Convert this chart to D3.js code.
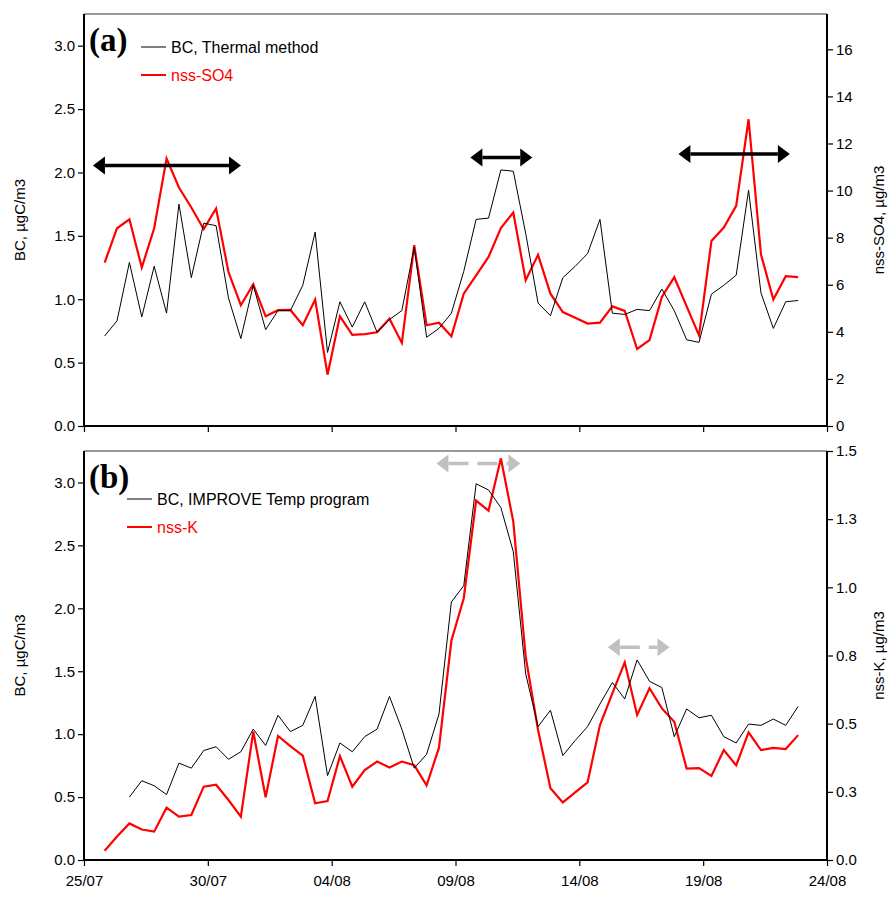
<!DOCTYPE html>
<html><head><meta charset="utf-8">
<script src="https://cdn.jsdelivr.net/npm/d3@7"></script>
<style>body{margin:0;background:#fff}</style></head>
<body><svg id="c" width="895" height="897"></svg>
<script>
const startTime = "2000-07-25T20:00";
const stepHours = 12;
const xTickLabels = ["25/07","30/07","04/08","09/08","14/08","19/08","24/08"];
const bcThermal = [0.71,0.83,1.29,0.86,1.26,0.89,1.75,1.17,1.60,1.58,1.01,0.69,1.11,0.76,0.91,0.91,1.11,1.53,0.58,0.98,0.78,0.98,0.74,0.84,0.91,1.41,0.70,0.77,0.89,1.22,1.63,1.64,2.02,2.01,1.52,0.97,0.87,1.17,1.26,1.36,1.63,0.89,0.88,0.92,0.91,1.08,0.91,0.68,0.66,1.04,1.11,1.19,1.86,1.05,0.77,0.98,0.99];
const nssSO4 = [6.94,8.40,8.78,6.73,8.40,11.36,10.13,9.28,8.36,9.24,6.54,5.13,6.02,4.66,4.92,4.93,4.28,5.37,2.18,4.66,3.87,3.90,3.98,4.56,3.53,7.68,4.28,4.39,3.81,5.62,6.40,7.18,8.41,9.07,6.19,7.27,5.62,4.84,4.60,4.35,4.39,5.08,4.89,3.27,3.65,5.48,6.32,5.08,3.85,7.86,8.43,9.35,13.03,7.29,5.37,6.36,6.32];
const bcImprove = [null,null,0.50,0.63,0.59,0.52,0.77,0.73,0.87,0.90,0.80,0.86,1.04,0.91,1.15,1.02,1.07,1.30,0.67,0.93,0.86,0.98,1.04,1.30,1.04,0.73,0.84,1.16,2.05,2.18,2.99,2.94,2.80,2.45,1.48,1.06,1.19,0.83,0.95,1.06,1.24,1.41,1.28,1.59,1.42,1.37,0.98,1.20,1.13,1.15,0.98,0.93,1.08,1.07,1.12,1.07,1.22];
const nssK = [0.034,0.086,0.134,0.112,0.104,0.192,0.159,0.165,0.269,0.276,0.220,0.159,0.471,0.230,0.455,0.418,0.383,0.208,0.216,0.381,0.269,0.330,0.361,0.339,0.361,0.348,0.274,0.412,0.804,0.960,1.318,1.281,1.473,1.241,0.746,0.477,0.263,0.211,0.248,0.285,0.495,0.611,0.725,0.532,0.630,0.556,0.507,0.335,0.337,0.308,0.403,0.347,0.468,0.403,0.411,0.407,0.458];
const leftTicks = [0,0.5,1.0,1.5,2.0,2.5,3.0];
const so4Ticks = [0,2,4,6,8,10,12,14,16];
const kTicks = [0,0.25,0.5,0.75,1.0,1.25,1.5];
// annotation arrows: [startDay, endDay, value] (days after 25/07)
const arrowsA = [[0.36,6.34,11.07],[15.6,18.1,11.4],[24.0,28.5,11.55]];
const arrowsB = [[14.23,17.62,3.15],[21.15,23.64,1.69]];

const svg = d3.select("#c");
const font = "Arial, 'Liberation Sans', sans-serif";
const parse = d3.timeParse("%Y-%m-%dT%H:%M");
const t0 = parse(startTime);
const times = bcThermal.map((_, i) => d3.timeHour.offset(t0, i*stepHours));
const d0 = parse("2000-07-25T00:00");
const dayToDate = d => new Date(d0.getTime() + d*864e5);
const xTickDates = xTickLabels.map((s,i)=>d3.timeDay.offset(d0, i*5));
const x = d3.scaleTime().domain([d0, d3.timeDay.offset(d0,30)]).range([84, 827]);

const svgDefs = svg.append("defs");

function panel(cfg){
  const {top, bottom, lMax, rMax, rTicks, rFmt, bc, other, label, leg1, leg2, rTitle, showX, legX, legY} = cfg;
  const yl = d3.scaleLinear().domain([0,lMax]).range([bottom, top]);
  const yr = d3.scaleLinear().domain([0,rMax]).range([bottom, top]);
  const g = svg.append("g");
  g.append("line").attr("x1",84).attr("x2",827).attr("y1",top).attr("y2",top).attr("stroke","#777").attr("stroke-width",1.5);
  const ax = g.append("g").attr("transform",`translate(0,${bottom})`)
    .call(d3.axisBottom(x).tickValues(xTickDates).tickSize(6).tickFormat((d,i)=>showX?xTickLabels[i]:""));
  const al = g.append("g").attr("transform","translate(84,0)")
    .call(d3.axisLeft(yl).tickValues(leftTicks).tickSize(6).tickFormat(d3.format(".1f")));
  const ar = g.append("g").attr("transform","translate(827,0)")
    .call(d3.axisRight(yr).tickValues(rTicks).tickSize(6).tickFormat(rFmt));
  [ax,al,ar].forEach(a=>{a.select(".domain").attr("stroke","#000").attr("stroke-width",2);
    a.selectAll(".tick line").attr("stroke","#000").attr("stroke-width",1.2);
    a.selectAll("text").attr("font-family",font).attr("font-size",15).attr("fill","#000");});
  ax.selectAll("text").attr("dy","1.1em");
  al.select(".domain").attr("d",`M0,${bottom}V${top}`);
  ar.select(".domain").attr("d",`M0,${bottom}V${top}`);
  ax.select(".domain").attr("d",`M0,0H${827}`).attr("transform",null);
  ax.select(".domain").attr("d",`M84,0H827`);
  g.append("text").attr("transform",`translate(25,${(top+bottom)/2}) rotate(-90)`).attr("text-anchor","middle")
    .attr("font-family",font).attr("font-size",15).text("BC, µgC/m3");
  g.append("text").attr("transform",`translate(884,${(top+bottom)/2}) rotate(-90)`).attr("text-anchor","middle")
    .attr("font-family",font).attr("font-size",15).text(rTitle);
  const lineL = d3.line().defined(d=>d[1]!=null).x(d=>x(d[0])).y(d=>yl(d[1]));
  const lineR = d3.line().defined(d=>d[1]!=null).x(d=>x(d[0])).y(d=>yr(d[1]));
  g.append("path").attr("d",lineR(times.map((t,i)=>[t,other[i]]))).attr("fill","none").attr("stroke","#ff0000").attr("stroke-width",2.2).attr("stroke-linejoin","miter");
  g.append("path").attr("d",lineL(times.map((t,i)=>[t,bc[i]]))).attr("fill","none").attr("stroke","#000").attr("stroke-width",1);
  g.append("text").attr("x",89).attr("y",top+37).attr("font-family","'Liberation Serif','Times New Roman',serif").attr("font-weight","bold").attr("font-size",33).text(label);
  g.append("line").attr("x1",legX).attr("x2",legX+25).attr("y1",legY).attr("y2",legY).attr("stroke","#000").attr("stroke-width",1);
  g.append("text").attr("x",legX+30).attr("y",legY+6).attr("font-family",font).attr("font-size",16).text(leg1);
  g.append("line").attr("x1",legX).attr("x2",legX+25).attr("y1",legY+28).attr("y2",legY+28).attr("stroke","#ff0000").attr("stroke-width",2);
  g.append("text").attr("x",legX+30).attr("y",legY+34).attr("font-family",font).attr("font-size",16).attr("fill","#ff0000").text(leg2);
  return {g, yl, yr};
}

const pa = panel({top:14,bottom:426,lMax:3.25,rMax:17.5,rTicks:so4Ticks,rFmt:d3.format("d"),bc:bcThermal,other:nssSO4,
  label:"(a)",leg1:"BC, Thermal method",leg2:"nss-SO4",rTitle:"nss-SO4, µg/m3",showX:false,legX:141,legY:47});
const pb = panel({top:451,bottom:860,lMax:3.25,rMax:1.5,rTicks:kTicks,rFmt:d3.format(".1f"),bc:bcImprove,other:nssK,
  label:"(b)",leg1:"BC, IMPROVE Temp program",leg2:"nss-K",rTitle:"nss-K, µg/m3",showX:true,legX:127,legY:499});

function dblArrow(g, x1, x2, y, color, dashed){
  const h = 12, hw = 9;
  g.append("line").attr("x1",x1+h).attr("x2",x2-h).attr("y1",y).attr("y2",y).attr("stroke",color).attr("stroke-width",3.5)
    .attr("stroke-dasharray",dashed?"20,9":null);
  g.append("path").attr("d",`M${x1},${y}L${x1+h},${y-hw}L${x1+h},${y+hw}Z`).attr("fill",color);
  g.append("path").attr("d",`M${x2},${y}L${x2-h},${y-hw}L${x2-h},${y+hw}Z`).attr("fill",color);
}
arrowsA.forEach(a=>dblArrow(pa.g, x(dayToDate(a[0])), x(dayToDate(a[1])), pa.yr(a[2]), "#000", false));
arrowsB.forEach(a=>dblArrow(pb.g, x(dayToDate(a[0])), x(dayToDate(a[1])), pb.yl(a[2]), "#c0c0c0", true));
</script></body></html>
